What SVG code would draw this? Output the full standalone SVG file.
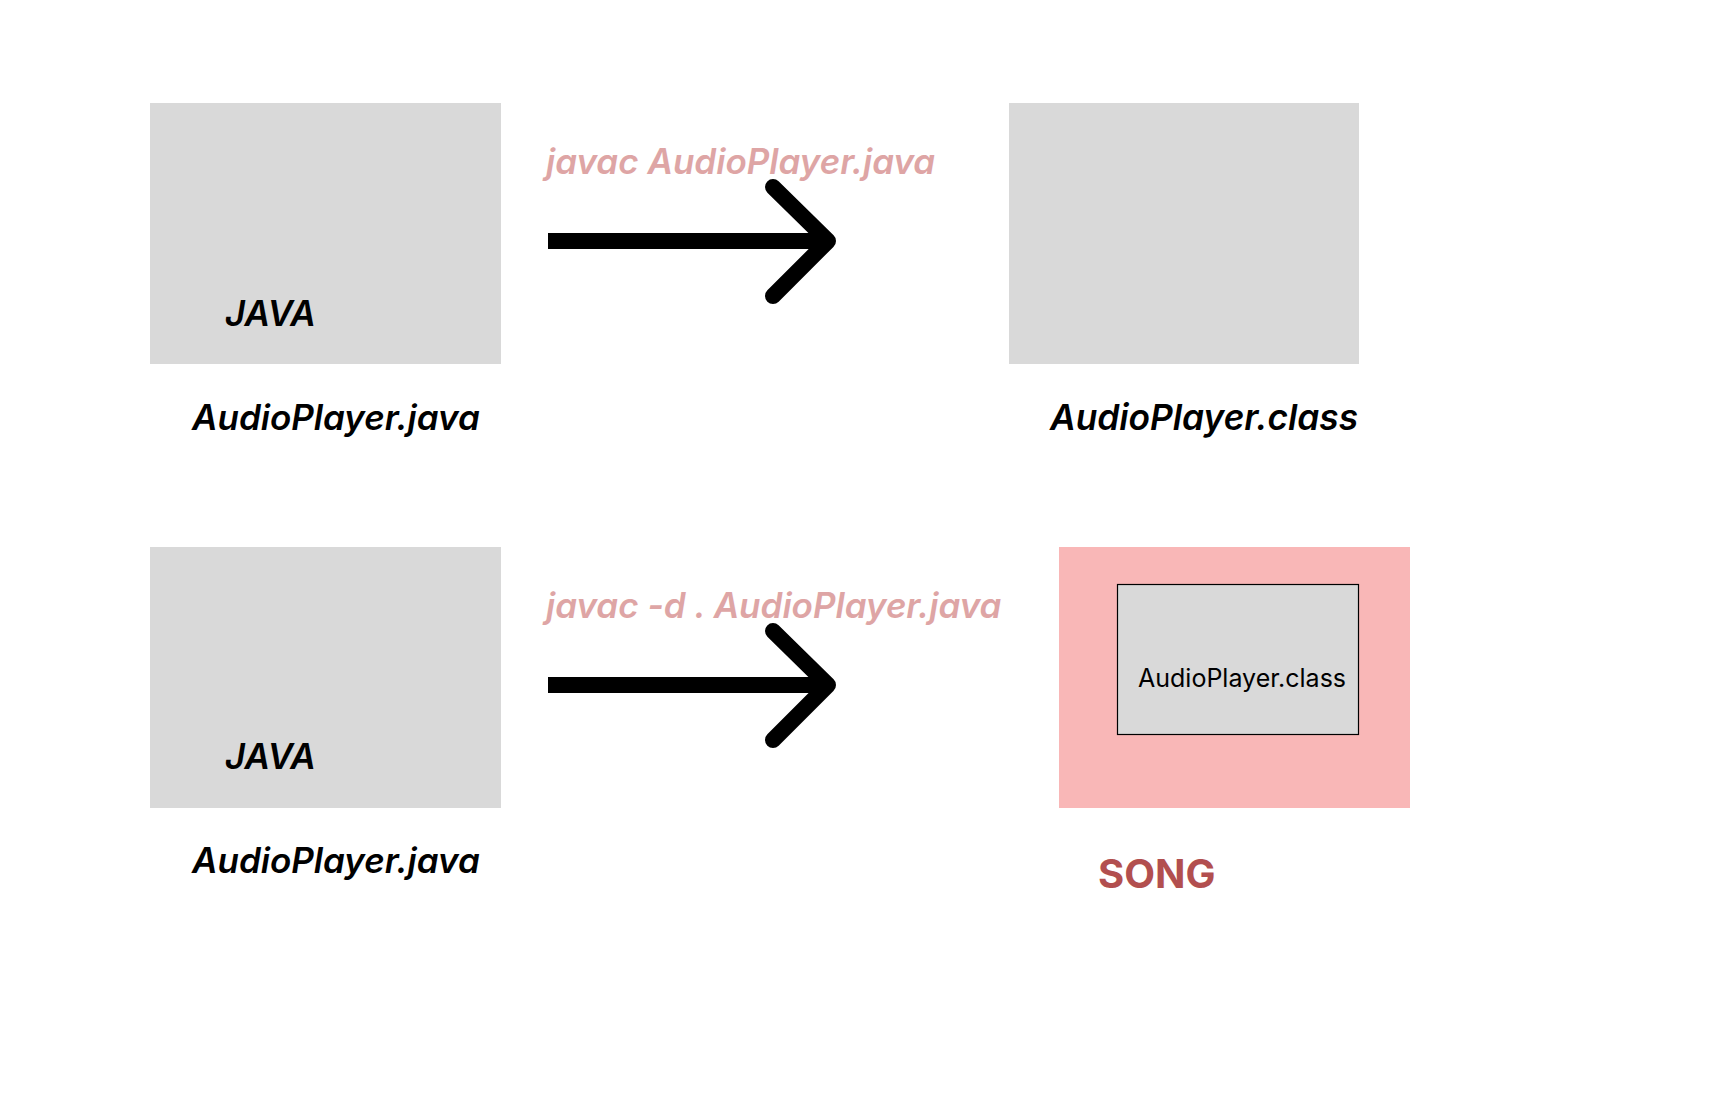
<svg xmlns="http://www.w3.org/2000/svg" width="1728" height="1117" viewBox="0 0 1728 1117">
<style>
.file{fill:#d9d9d9}
.lbl{font-family:Inter,"Liberation Sans",sans-serif;font-style:italic;font-weight:600;fill:#000}
.cmd{font-family:Inter,"Liberation Sans",sans-serif;font-style:italic;font-weight:600;fill:#dea5a5;font-size:35px}
.arrow{fill:none;stroke:#000;stroke-width:16}
</style>
<rect width="1728" height="1117" fill="#fff"/>
<g id="java-src-1">
<rect class="file" x="150" y="103" width="351" height="261"/>
<text class="lbl" x="225" y="326" font-size="35">JAVA</text>
<text class="lbl" x="192" y="430" font-size="35">AudioPlayer.java</text>
</g>
<g id="class-file-1">
<rect class="file" x="1009" y="103" width="350" height="261"/>
<text class="lbl" x="1050" y="430" font-size="35.3">AudioPlayer.class</text>
</g>
<g id="java-src-2">
<rect class="file" x="150" y="547" width="351" height="261"/>
<text class="lbl" x="225" y="769" font-size="35">JAVA</text>
<text class="lbl" x="192" y="873" font-size="35">AudioPlayer.java</text>
</g>
<g id="song-package">
<rect x="1059" y="547" width="351" height="261" fill="#f9b7b7"/>
<rect x="1117.5" y="584.5" width="241" height="150" fill="#d9d9d9" stroke="#000" stroke-width="1.2"/>
<text x="1138" y="687" font-family="Inter,'Liberation Sans',sans-serif" font-size="25" fill="#000">AudioPlayer.class</text>
<text x="1098" y="888" font-family="Inter,'Liberation Sans',sans-serif" font-size="40" font-weight="700" fill="#b24f4f">SONG</text>
</g>
<g id="connectors">
<text class="cmd" x="546" y="174">javac AudioPlayer.java</text>
<path class="arrow" d="M548 241 H828"/>
<path class="arrow" stroke-linecap="round" stroke-linejoin="round" d="M773 187 L828 241 L773 296"/>
<text class="cmd" x="546" y="618">javac -d . AudioPlayer.java</text>
<path class="arrow" d="M548 685 H828"/>
<path class="arrow" stroke-linecap="round" stroke-linejoin="round" d="M773 631 L828 685 L773 740"/>
</g>
</svg>
